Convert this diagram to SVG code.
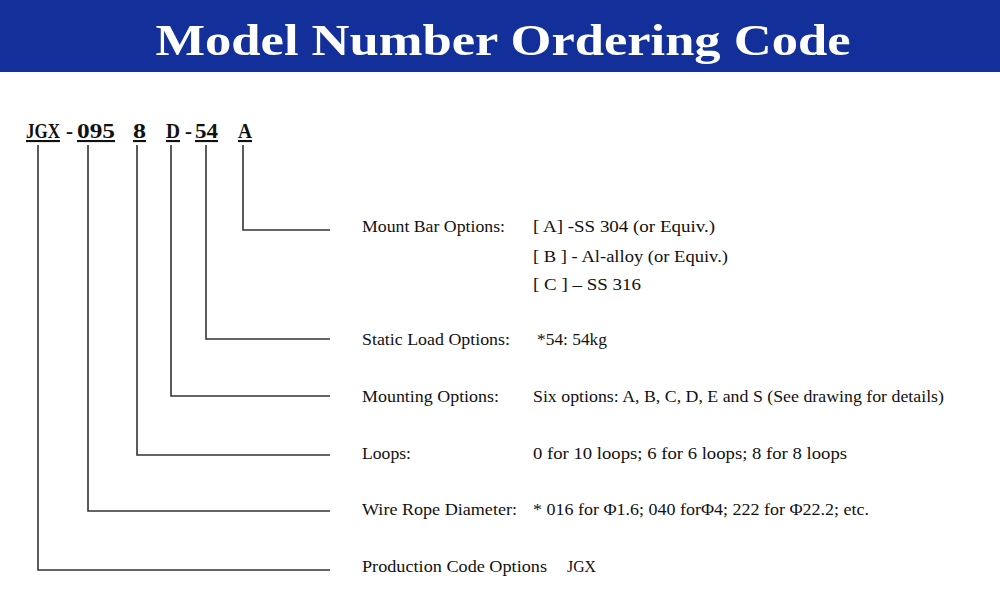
<svg xmlns="http://www.w3.org/2000/svg" width="1000" height="609" viewBox="0 0 1000 609">
<style>
.t{font-family:"Liberation Serif",serif;font-size:17px;fill:#111}
.c{font-family:"Liberation Serif",serif;font-size:21px;font-weight:bold;fill:#111;text-decoration:underline}
.d{font-family:"Liberation Serif",serif;font-size:21px;font-weight:bold;fill:#111}
.l{stroke:#333;stroke-width:1.6;fill:none}
</style>
<rect x="0" y="0" width="1000" height="72" fill="#13309a"/>
<text x="503" y="55" text-anchor="middle" font-family="Liberation Serif,serif" font-weight="bold" font-size="44" fill="#fff" textLength="695" lengthAdjust="spacingAndGlyphs">Model Number Ordering Code</text>
<g id="code">
<text class="c" x="26" y="138" textLength="34" lengthAdjust="spacingAndGlyphs">JGX</text>
<text class="d" x="66" y="138">-</text>
<text class="c" x="77" y="138" textLength="38" lengthAdjust="spacingAndGlyphs">095</text>
<text class="c" x="133" y="138" textLength="13" lengthAdjust="spacingAndGlyphs">8</text>
<text class="c" x="166" y="138" textLength="14" lengthAdjust="spacingAndGlyphs">D</text>
<text class="d" x="185" y="138">-</text>
<text class="c" x="195" y="138" textLength="23" lengthAdjust="spacingAndGlyphs">54</text>
<text class="c" x="238" y="138" textLength="14" lengthAdjust="spacingAndGlyphs">A</text>
</g>
<g id="connectors">
<path class="l" d="M38 145V570H330"/>
<path class="l" d="M88 145V511H330"/>
<path class="l" d="M137 145V455H330"/>
<path class="l" d="M171 145V396H330"/>
<path class="l" d="M206 145V339H330"/>
<path class="l" d="M243 145V230H330"/>
</g>
<g id="mount"><text class="t" x="362" y="232" textLength="143" lengthAdjust="spacingAndGlyphs">Mount Bar Options:</text>
<text class="t" x="533" y="232" textLength="182" lengthAdjust="spacingAndGlyphs">[ A] -SS 304 (or Equiv.)</text>
<text class="t" x="533" y="262" textLength="195" lengthAdjust="spacingAndGlyphs">[ B ] - Al-alloy (or Equiv.)</text>
<text class="t" x="533" y="290" textLength="108" lengthAdjust="spacingAndGlyphs">[ C ] – SS 316</text></g>
<g id="static"><text class="t" x="362" y="345" textLength="148" lengthAdjust="spacingAndGlyphs">Static Load Options:</text>
<text class="t" x="537" y="345" textLength="70" lengthAdjust="spacingAndGlyphs">*54: 54kg</text></g>
<g id="mounting"><text class="t" x="362" y="402" textLength="137" lengthAdjust="spacingAndGlyphs">Mounting Options:</text>
<text class="t" x="533" y="402" textLength="411" lengthAdjust="spacingAndGlyphs">Six options: A, B, C, D, E and S (See drawing for details)</text></g>
<g id="loops"><text class="t" x="362" y="459" textLength="49" lengthAdjust="spacingAndGlyphs">Loops:</text>
<text class="t" x="533" y="459" textLength="314" lengthAdjust="spacingAndGlyphs">0 for 10 loops; 6 for 6 loops; 8 for 8 loops</text></g>
<g id="wire"><text class="t" x="362" y="515" textLength="155" lengthAdjust="spacingAndGlyphs">Wire Rope Diameter:</text>
<text class="t" x="533" y="515" textLength="336" lengthAdjust="spacingAndGlyphs">* 016 for Φ1.6; 040 forΦ4; 222 for Φ22.2; etc.</text></g>
<g id="production"><text class="t" x="362" y="572" textLength="185" lengthAdjust="spacingAndGlyphs">Production Code Options</text>
<text class="t" x="567" y="572" textLength="29" lengthAdjust="spacingAndGlyphs">JGX</text></g>
</svg>
